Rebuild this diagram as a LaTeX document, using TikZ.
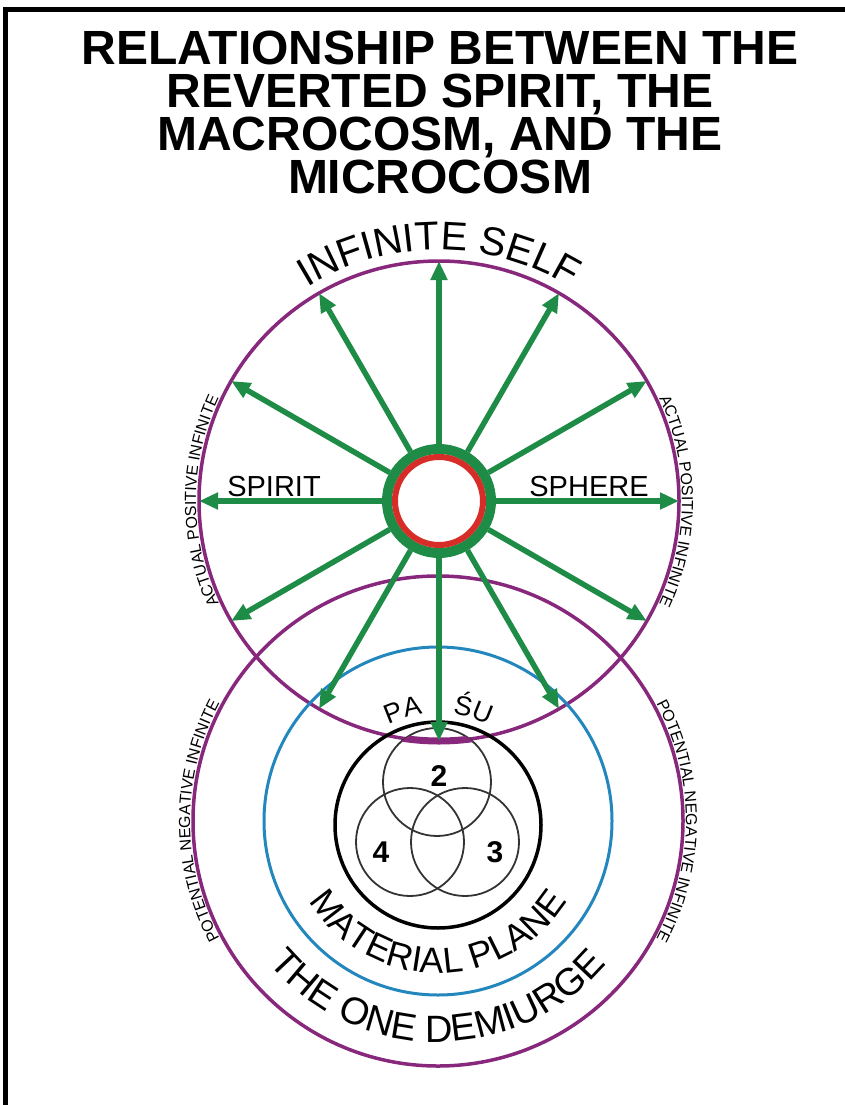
\documentclass[tikz,border=0pt]{standalone}
\usepackage{fontspec}
\setmainfont{Liberation Sans}
\usepackage{tikz}
\usetikzlibrary{arrows.meta, decorations.text}
\definecolor{purpleRing}{RGB}{135, 40, 125}
\definecolor{greenRay}{RGB}{30, 140, 70}
\definecolor{redCore}{RGB}{215, 45, 40}
\definecolor{blueRing}{RGB}{35, 135, 190}

\begin{document}
\begin{tikzpicture}[x=1pt, y=1pt,
    ring/.style={draw=purpleRing, line width=3.5pt},
    ray/.style={-{Triangle[length=19pt, width=16pt]}, line width=5.5pt, greenRay},
    venn/.style={draw=black!80, line width=1.8pt},
    num/.style={font=\fontsize{30}{30}\selectfont\bfseries},
    word/.style={font=\fontsize{29}{29}\selectfont},
    curvetext/.style={decorate, decoration={text along path, text align=center, text={#1}}}]

    \useasboundingbox (0,0) rectangle (845,-1105);
    \draw[line width=5pt] (5.5,-1105) -- (5.5,-9.5) -- (845,-9.5);

    \node[anchor=north, align=center, inner sep=0pt, font=\fontsize{48}{43}\selectfont\bfseries] (title) at (440,-31)
        {RELATIONSHIP BETWEEN THE\\REVERTED SPIRIT, THE\\MACROCOSM, AND THE\\MICROCOSM};

    \coordinate (up) at (439,-501);
    \coordinate (low) at (438,-821);
    \coordinate (blk) at (438,-825);
    \coordinate (v2) at (437,-782);
    \coordinate (v4) at (410,-842);
    \coordinate (v3) at (465,-842);

    % spheres
    \draw[ring] (up) circle[radius=240];
    \draw[ring] (low) circle[radius=245];
    \draw[blueRing, line width=3pt] (low) circle[radius=174];
    \draw[line width=3.5pt] (blk) circle[radius=103];
    \draw[venn] (v2) circle[radius=54];
    \draw[venn] (v4) circle[radius=54];
    \draw[venn] (v3) circle[radius=54];
    \begin{scope}
        \clip (v2) circle[radius=54];
        \draw[purpleRing, line width=7pt] (up) circle[radius=240];
    \end{scope}

    \node[num] (n2) at (439,-776) {2};
    \node[num] (n4) at (381,-852) {4};
    \node[num] (n3) at (495,-852) {3};

    % spirit sphere
    \node[circle, draw=greenRay, line width=10pt, minimum size=104pt, inner sep=0pt] (hub) at (up) {};
    \draw[redCore, line width=6pt] (hub.center) circle[radius=44];
    \foreach \a in {0,30,...,330}{
        \coordinate (tip\a) at ([shift={(\a:240)}]up);
        \draw[ray] (hub.\a) -- (tip\a);
    }

    \node[word] (spirit) at (274,-487) {SPIRIT};
    \node[word] (sphere) at (589,-487) {SPHERE};

    % curved labels
    \path[curvetext={|\fontsize{40}{40}\selectfont|INFINITE SELF}] ([shift={(150:251)}]up) arc[start angle=150, end angle=30, radius=251];
    \path[curvetext={|\fontsize{16}{16}\selectfont|ACTUAL POSITIVE INFINITE}] ([shift={(208:243)}]up) arc[start angle=208, end angle=152, radius=243];
    \path[curvetext={|\fontsize{16}{16}\selectfont|ACTUAL POSITIVE INFINITE}] ([shift={(28:243)}]up) arc[start angle=28, end angle=-28, radius=243];
    \path[curvetext={|\fontsize{16}{16}\selectfont|POTENTIAL NEGATIVE INFINITE}] ([shift={(210:248)}]low) arc[start angle=210, end angle=150, radius=248];
    \path[curvetext={|\fontsize{16}{16}\selectfont|POTENTIAL NEGATIVE INFINITE}] ([shift={(30:248)}]low) arc[start angle=30, end angle=-30, radius=248];
    \path[curvetext={|\fontsize{36}{36}\selectfont|MATERIAL PLANE}] ([shift={(200:152)}]low) arc[start angle=200, end angle=340, radius=152];
    \path[curvetext={|\fontsize{38}{38}\selectfont|THE ONE DEMIURGE}] ([shift={(200:221)}]low) arc[start angle=200, end angle=340, radius=221];
    \path[curvetext={|\fontsize{27}{27}\selectfont|PA}] ([shift={(124:112)}]blk) arc[start angle=124, end angle=90, radius=112];
    \path[curvetext={|\fontsize{27}{27}\selectfont|ŚU}] ([shift={(90:112)}]blk) arc[start angle=90, end angle=56, radius=112];
\end{tikzpicture}
\end{document}
